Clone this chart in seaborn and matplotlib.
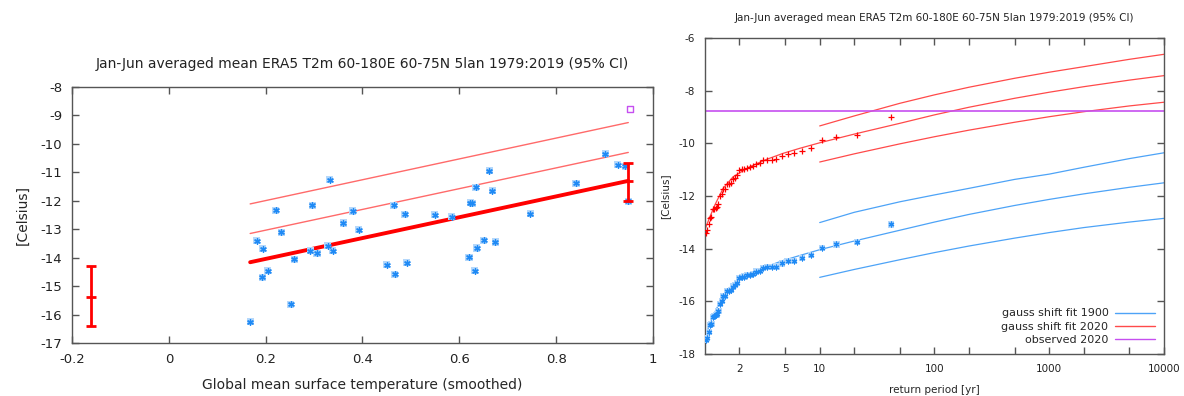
import matplotlib
matplotlib.use('Agg')
import matplotlib.pyplot as plt
from matplotlib.lines import Line2D
import seaborn as sns
import numpy as np
import pandas as pd

#%% data
title = 'Jan-Jun averaged mean ERA5 T2m 60-180E 60-75N 5lan 1979:2019 (95% CI)'

# left panel: yearly values against smoothed global mean temperature
gmst = [0.182, 0.194, 0.221, 0.232, 0.193, 0.204, 0.259, 0.292, 0.296, 0.306,
        0.328, 0.332, 0.339, 0.360, 0.380, 0.392, 0.450, 0.465, 0.467, 0.487,
        0.491, 0.549, 0.584, 0.620, 0.623, 0.627, 0.634, 0.632, 0.636, 0.650,
        0.662, 0.668, 0.674, 0.747, 0.841, 0.901, 0.927, 0.943, 0.949, 0.168,
        0.252]
t2m = [-13.41, -13.68, -12.34, -13.10, -14.69, -14.46, -14.06, -13.76, -12.15, -13.85,
       -13.58, -11.26, -13.76, -12.78, -12.36, -13.02, -14.25, -12.16, -14.59, -12.48,
       -14.17, -12.49, -12.56, -13.98, -12.07, -12.09, -11.53, -14.46, -13.66, -13.39,
       -10.94, -11.65, -13.45, -12.46, -11.39, -10.34, -10.73, -10.78, -12.01, -16.25,
       -15.63]

fit_x = [0.168, 0.949]
fit_mean = [-14.16, -11.30]
fit_1sd = [-13.15, -10.30]
fit_2sd = [-12.11, -9.25]

err_x = [-0.161, 0.949]
err_mid = [-15.37, -11.30]
err_lo = [-16.39, -12.01]
err_hi = [-14.29, -10.67]

obs_x = 0.953
obs_2020 = -8.77

# right panel: return period plot
ret_period = [42, 21, 14, 10.5, 8.4, 7, 6, 5.25, 4.67, 4.2, 3.82, 3.5, 3.23, 3.0,
              2.8, 2.63, 2.47, 2.33, 2.21, 2.1, 2.0, 1.91, 1.83, 1.75, 1.68, 1.62,
              1.56, 1.5, 1.45, 1.4, 1.35, 1.31, 1.27, 1.24, 1.2, 1.17, 1.14, 1.11,
              1.08, 1.05, 1.02]
pts_2020 = [-9.00, -9.68, -9.76, -9.89, -10.16, -10.28, -10.38, -10.39, -10.48, -10.60,
            -10.62, -10.62, -10.65, -10.76, -10.79, -10.88, -10.91, -10.92, -10.98, -10.99,
            -11.03, -11.22, -11.31, -11.36, -11.50, -11.53, -11.53, -11.72, -11.73, -11.92,
            -12.01, -12.30, -12.42, -12.44, -12.49, -12.51, -12.78, -12.83, -13.08, -13.30,
            -13.39]
pts_1900 = [-13.08, -13.76, -13.84, -13.97, -14.24, -14.36, -14.46, -14.47, -14.56, -14.68,
            -14.70, -14.70, -14.73, -14.84, -14.87, -14.96, -14.99, -15.00, -15.06, -15.07,
            -15.11, -15.30, -15.39, -15.44, -15.58, -15.61, -15.61, -15.80, -15.81, -16.00,
            -16.09, -16.38, -16.50, -16.52, -16.57, -16.59, -16.86, -16.91, -17.16, -17.38,
            -17.47]

curve_t = [1.0, 1.105, 1.22, 1.44, 1.76, 2.46, 3.44, 4.8, 6.7, 10, 20, 50, 100, 200,
           500, 1000, 2000, 5000, 10000]
fit2020_mid = [-13.27, -12.79, -12.34, -11.71, -11.27, -10.89, -10.61, -10.38, -10.19,
               -9.98, -9.65, -9.24, -8.92, -8.63, -8.29, -8.06, -7.85, -7.60, -7.43]
fit1900_mid = [-17.34, -16.86, -16.41, -15.78, -15.34, -14.96, -14.68, -14.45, -14.26,
               -14.04, -13.71, -13.30, -12.99, -12.70, -12.36, -12.13, -11.92, -11.67, -11.50]

ci_t = [10, 20, 50, 100, 200, 500, 1000, 2000, 5000, 10000]
fit2020_hi = [-9.34, -8.96, -8.48, -8.16, -7.87, -7.53, -7.30, -7.09, -6.81, -6.62]
fit2020_lo = [-10.71, -10.40, -10.02, -9.75, -9.50, -9.20, -8.99, -8.80, -8.58, -8.44]
fit1900_hi = [-13.01, -12.62, -12.22, -11.96, -11.71, -11.37, -11.17, -10.91, -10.58, -10.36]
fit1900_lo = [-15.09, -14.79, -14.42, -14.15, -13.90, -13.60, -13.39, -13.20, -12.99, -12.85]

#%% style
sns.set_style('ticks')
plt.rcParams['font.family'] = ['DejaVu Sans']
plt.rcParams['axes.unicode_minus'] = False

blue_pt = '#1f8af5'
blue_halo = '#b5d8fb'
blue_line = '#4da3f7'
red_line = '#ff4a4a'
purple = '#c64ff0'
frame = '#555555'

fig = plt.figure(figsize=(11.84, 3.96), dpi=100)
ax1 = fig.add_axes([0.0608, 0.1338, 0.4907, 0.6465])
ax2 = fig.add_axes([0.5954, 0.1061, 0.3877, 0.798])

#%% left panel
sns.lineplot(x=fit_x, y=fit_2sd, ax=ax1, color='#ff6a6a', lw=1)
sns.lineplot(x=fit_x, y=fit_1sd, ax=ax1, color='#ff6a6a', lw=1)
sns.lineplot(x=fit_x, y=fit_mean, ax=ax1, color='red', lw=2.8)
sns.scatterplot(x=gmst, y=t2m, ax=ax1, marker='s', s=26, color=blue_halo,
                edgecolor='none', zorder=3)
sns.scatterplot(x=gmst, y=t2m, ax=ax1, marker=(6, 2, 0), s=16, color=blue_pt,
                linewidth=1, zorder=4)
for x, m, lo, hi in zip(err_x, err_mid, err_lo, err_hi):
    ax1.errorbar([x], [m], yerr=[[m - lo], [hi - m]], fmt='_', color='red',
                 ms=7, mew=2, elinewidth=2, capsize=3.6, capthick=2, zorder=5)
ax1.scatter([obs_x], [obs_2020], marker='s', s=18, facecolor='none',
            edgecolor=purple, linewidth=1, zorder=5)

ax1.set_xlim(-0.2, 1)
ax1.set_ylim(-17, -8)
xt = [-0.2, 0, 0.2, 0.4, 0.6, 0.8, 1]
ax1.set_xticks(xt, ['-0.2', '0', '0.2', '0.4', '0.6', '0.8', '1'])
yt = list(range(-17, -7))
ax1.set_yticks(yt, [str(v) for v in yt])
ax1.set_title(title, fontsize=10, pad=14, color='#222222')
ax1.set_xlabel('Global mean surface temperature (smoothed)', fontsize=10, labelpad=9)
ax1.set_ylabel('[Celsius]', fontsize=10, labelpad=8)
ax1.tick_params(labelsize=9.5, pad=7)

#%% right panel
sns.lineplot(x=curve_t, y=fit1900_mid, ax=ax2, color=blue_line, lw=0.9)
sns.lineplot(x=ci_t, y=fit1900_hi, ax=ax2, color=blue_line, lw=0.9)
sns.lineplot(x=ci_t, y=fit1900_lo, ax=ax2, color=blue_line, lw=0.9)
sns.lineplot(x=curve_t, y=fit2020_mid, ax=ax2, color=red_line, lw=0.9)
sns.lineplot(x=ci_t, y=fit2020_hi, ax=ax2, color=red_line, lw=0.9)
sns.lineplot(x=ci_t, y=fit2020_lo, ax=ax2, color=red_line, lw=0.9)
ax2.axhline(obs_2020, color=purple, lw=1.2)
sns.scatterplot(x=ret_period, y=pts_1900, ax=ax2, marker='s', s=20, color=blue_halo,
                edgecolor='none', zorder=3)
sns.scatterplot(x=ret_period, y=pts_1900, ax=ax2, marker=(6, 2, 0), s=12, color=blue_pt,
                linewidth=0.9, zorder=4)
sns.scatterplot(x=ret_period, y=pts_2020, ax=ax2, marker='+', s=22, color='red',
                linewidth=0.9, zorder=4)

ax2.set_xscale('log')
ax2.set_xlim(1, 10000)
ax2.set_ylim(-18, -6)
rt = [2, 5, 10, 20, 50, 100, 200, 500, 1000, 2000, 5000, 10000]
ax2.set_xticks(rt, ['2', '5', '10', '', '', '100', '', '', '1000', '', '', '10000'])
ax2.xaxis.set_minor_locator(matplotlib.ticker.NullLocator())
yt2 = list(range(-18, -5, 2))
ax2.set_yticks(yt2, [str(v) for v in yt2])
ax2.set_title(title, fontsize=7.5, pad=12, color='#222222')
ax2.set_xlabel('return period [yr]', fontsize=7.5, labelpad=8)
ax2.set_ylabel('[Celsius]', fontsize=7.5, labelpad=6)
ax2.tick_params(labelsize=7.5, pad=7)

handles = [Line2D([], [], color=blue_line, lw=1),
           Line2D([], [], color=red_line, lw=1),
           Line2D([], [], color=purple, lw=1)]
ax2.legend(handles, ['gauss shift fit 1900', 'gauss shift fit 2020', 'observed 2020'],
           loc='lower right', markerfirst=False, frameon=False, fontsize=8,
           handlelength=3.6, borderaxespad=0.4, labelspacing=0.3, handletextpad=0.6)

for ax in (ax1, ax2):
    for sp in ax.spines.values():
        sp.set_visible(True)
        sp.set_color(frame)
        sp.set_linewidth(1)
    ax.tick_params(direction='in', top=True, right=True, length=5, width=1,
                   color=frame, labelcolor='#222222')

fig.savefig('out.png', dpi=100)
